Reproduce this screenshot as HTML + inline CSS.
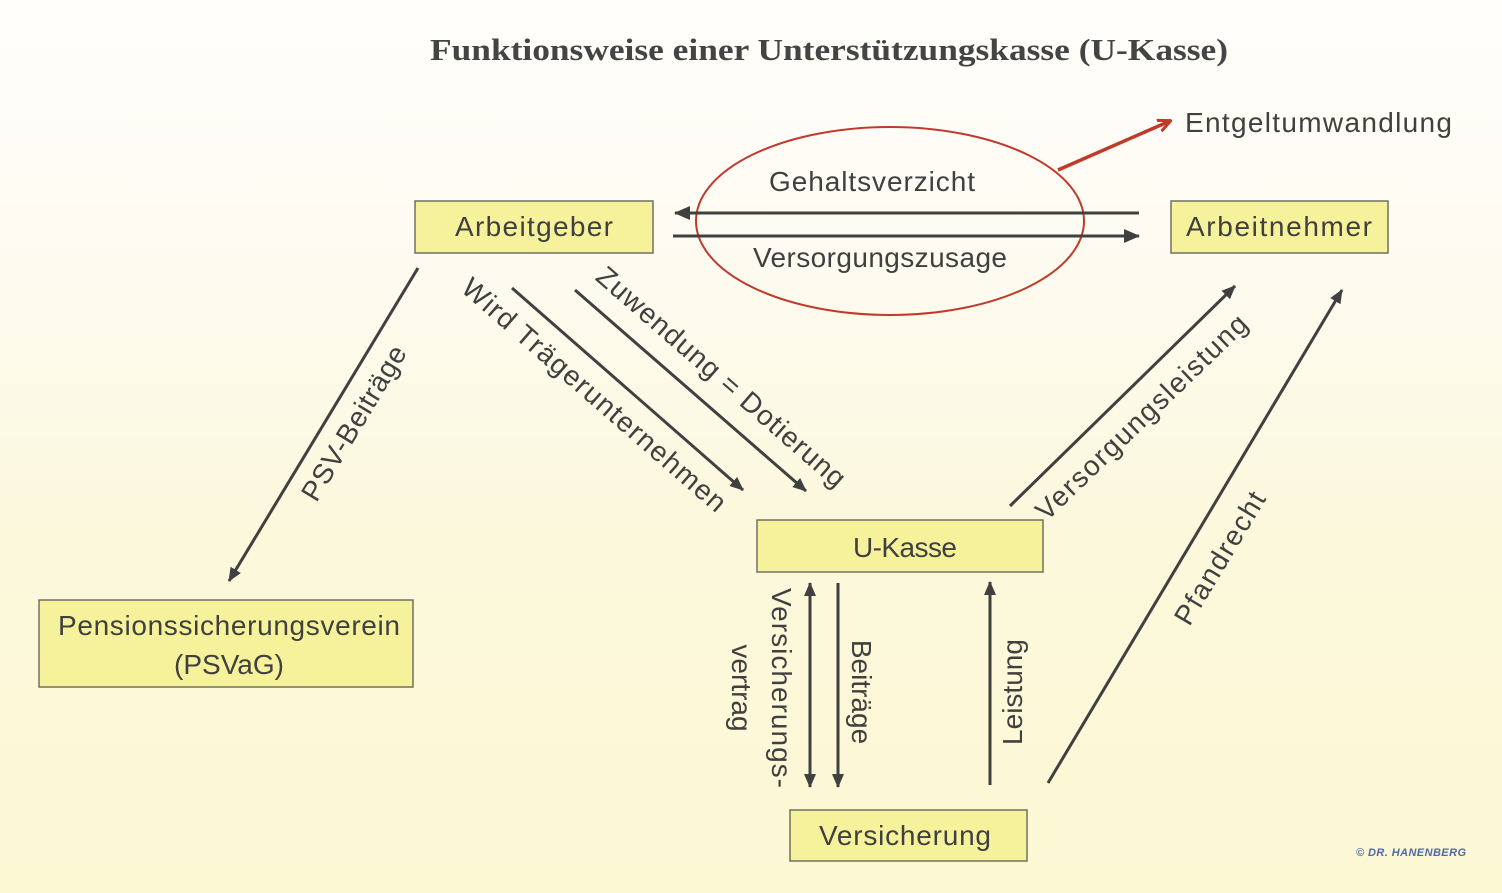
<!DOCTYPE html>
<html><head><meta charset="utf-8"><style>
html,body{margin:0;padding:0;width:1502px;height:893px;overflow:hidden}
body{background:linear-gradient(to bottom,#fffefb 0%,#fdfbf0 30%,#fcf8dc 60%,#fcf8d4 100%)}
svg{display:block}
</style></head><body>
<svg width="1502" height="893" xmlns="http://www.w3.org/2000/svg" font-family="Liberation Sans, sans-serif" fill="#404040">
<defs>
<marker id="a" markerWidth="14" markerHeight="12" refX="13" refY="6" orient="auto" markerUnits="userSpaceOnUse" viewBox="0 0 14 12"><path d="M0,0 L14,6 L0,12 z" fill="#404040"/></marker>
<marker id="ar" markerWidth="14" markerHeight="14" refX="12" refY="7" orient="auto" markerUnits="userSpaceOnUse" viewBox="0 0 14 14"><path d="M0,1 L13,7 L0,13" fill="none" stroke="#c0392b" stroke-width="3"/></marker>
<marker id="ah" markerWidth="16" markerHeight="14" refX="15" refY="7" orient="auto" markerUnits="userSpaceOnUse" viewBox="0 0 16 14"><path d="M0,0 L16,7 L0,14 z" fill="#404040"/></marker>
</defs>
<text x="430" y="60" textLength="798" lengthAdjust="spacingAndGlyphs" font-family="Liberation Serif, serif" font-weight="bold" font-size="31" fill="#444">Funktionsweise einer Unterstützungskasse (U-Kasse)</text>

<g stroke="#707060" stroke-width="1.5" fill="#f6f29c">
<rect x="415" y="201" width="238" height="52"/>
<rect x="1171" y="201" width="217" height="52"/>
<rect x="39" y="600" width="374" height="87"/>
<rect x="757" y="520" width="286" height="52"/>
<rect x="790" y="810" width="237" height="51"/>
</g>
<g font-size="28" text-anchor="middle">
<text x="534" y="236" textLength="158">Arbeitgeber</text>
<text x="1279" y="236" textLength="186">Arbeitnehmer</text>
<text x="229" y="635" textLength="342">Pensionssicherungsverein</text>
<text x="229" y="674">(PSVaG)</text>
<text x="905" y="557" textLength="104">U-Kasse</text>
<text x="905" y="845" textLength="172">Versicherung</text>
</g>

<ellipse cx="890" cy="221" rx="194" ry="94" fill="none" stroke="#c0392b" stroke-width="2"/>
<line x1="1058" y1="170" x2="1170" y2="121" stroke="#c0392b" stroke-width="3.5" marker-end="url(#ar)"/>
<text x="1185" y="132" font-size="28" textLength="267">Entgeltumwandlung</text>

<g stroke="#404040" stroke-width="3">
<line x1="1139" y1="213" x2="675" y2="213" marker-end="url(#ah)"/>
<line x1="673" y1="236" x2="1139" y2="236" marker-end="url(#ah)"/>
<line x1="418" y1="268" x2="229" y2="581" marker-end="url(#a)"/>
<line x1="512" y1="288" x2="743" y2="490" marker-end="url(#a)"/>
<line x1="575" y1="290" x2="806" y2="491" marker-end="url(#a)"/>
<line x1="1010" y1="506" x2="1235" y2="286" marker-end="url(#a)"/>
<line x1="1048" y1="783" x2="1342" y2="290" marker-end="url(#a)"/>
<line x1="810" y1="785" x2="810" y2="583" marker-end="url(#a)"/>
<line x1="810" y1="600" x2="810" y2="787" marker-end="url(#a)"/>
<line x1="838" y1="583" x2="838" y2="787" marker-end="url(#a)"/>
<line x1="990" y1="785" x2="990" y2="582" marker-end="url(#a)"/>
</g>

<g font-size="28">
<text x="872" y="191" text-anchor="middle" textLength="206">Gehaltsverzicht</text>
<text x="880" y="267" text-anchor="middle" textLength="254">Versorgungszusage</text>
<text transform="translate(362,428) rotate(-58.8)" text-anchor="middle" textLength="176">PSV-Beiträge</text>
<text transform="translate(588,402) rotate(41)" text-anchor="middle" textLength="340">Wird Trägerunternehmen</text>
<text transform="translate(715,384) rotate(41)" text-anchor="middle" textLength="320">Zuwendung = Dotierung</text>
<text transform="translate(1148,424) rotate(-44)" text-anchor="middle" textLength="282">Versorgungsleistung</text>
<text transform="translate(1228,563) rotate(-59)" text-anchor="middle" textLength="150">Pfandrecht</text>
<text transform="translate(772,688) rotate(90)" text-anchor="middle" textLength="200">Versicherungs-</text>
<text transform="translate(732,688) rotate(90)" text-anchor="middle">vertrag</text>
<text transform="translate(852,692) rotate(90)" text-anchor="middle">Beiträge</text>
<text transform="translate(1022,692) rotate(-90)" text-anchor="middle">Leistung</text>
</g>
<text x="1356" y="856" font-size="11" font-style="italic" font-weight="bold" fill="#5068a8" textLength="110">© DR. HANENBERG</text>
</svg>
</body></html>
